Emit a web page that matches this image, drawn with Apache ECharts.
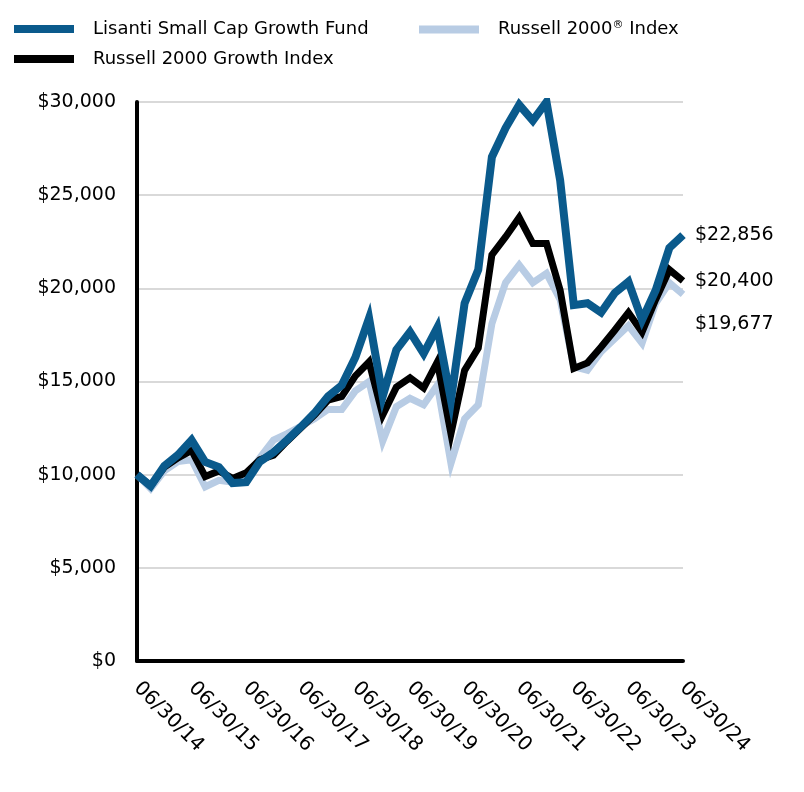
<!DOCTYPE html>
<html><head><meta charset="utf-8">
<script src="https://cdn.jsdelivr.net/npm/echarts@6/dist/echarts.min.js"></script>
<style>html,body{margin:0;padding:0;background:#fff}#c{width:804px;height:792px}</style>
</head><body><div id="c"></div>
<script>
const categories = [
 '06/30/14','09/30/14','12/31/14','03/31/15','06/30/15','09/30/15','12/31/15','03/31/16',
 '06/30/16','09/30/16','12/31/16','03/31/17','06/30/17','09/30/17','12/31/17','03/31/18',
 '06/30/18','09/30/18','12/31/18','03/31/19','06/30/19','09/30/19','12/31/19','03/31/20',
 '06/30/20','09/30/20','12/31/20','03/31/21','06/30/21','09/30/21','12/31/21','03/31/22',
 '06/30/22','09/30/22','12/31/22','03/31/23','06/30/23','09/30/23','12/31/23','03/31/24','06/30/24'];
const fundName = 'Lisanti Small Cap Growth Fund';
const growthName = 'Russell 2000 Growth Index';
const r2000Name = 'Russell 2000® Index';
const fund = [10000,9390,10470,11060,11860,10680,10410,9550,9600,10700,11200,11860,12560,13300,14200,14800,
 16300,18400,14200,16700,17660,16500,17900,14000,19200,21000,27050,28600,29850,29000,30000,25800,
 19100,19200,18700,19750,20350,18300,19900,22170,22856];
const growth = [10000,9400,10400,10900,11300,9900,10200,9800,10100,10800,11050,11800,12500,13200,14000,14200,
 15300,16050,13200,14700,15200,14650,16050,12200,15600,16800,21800,22760,23800,22400,22400,19900,
 15700,16000,16850,17750,18700,17650,19400,21000,20400];
const r2000 = [10000,9250,10200,10700,10800,9350,9700,9600,9800,10900,11860,12200,12600,13000,13500,13500,
 14500,15000,11800,13650,14100,13750,14800,10600,13000,13750,18100,20300,21250,20300,20800,19400,
 15800,15600,16600,17300,18000,17050,19200,20300,19677];
const yTicks = [0,5000,10000,15000,20000,25000,30000];

const FONT = 'DejaVu Sans';
const FS = 18;
const NFS = 19;
const fmt = v => '$' + Math.round(v).toLocaleString('en-US');
const chart = echarts.init(document.getElementById('c'), null, {renderer:'canvas'});
const legendText = {fontFamily:FONT,fontSize:FS,color:'#000',padding:[0,0,0,14],
  rich:{t:{fontFamily:FONT,fontSize:FS,color:'#000'},sup:{fontFamily:FONT,fontSize:11,color:'#000',verticalAlign:'top',padding:[0,0,8,0]}}};
const legendCommon = {itemWidth:60,itemHeight:8,icon:'rect',selectedMode:false,padding:0,itemGap:0,
  textStyle:legendText,
  formatter:n => n.indexOf('®')>=0 ? '{t|'+n.split('®')[0]+'}{sup|®}{t|'+n.split('®')[1]+'}' : n};
const lineCommon = {join:'miter',cap:'butt',width:7};
chart.setOption({
  animation:false,
  backgroundColor:'#fff',
  legend:[
    Object.assign({data:[fundName],left:14,top:20},legendCommon),
    Object.assign({data:[r2000Name],left:419,top:20},legendCommon),
    Object.assign({data:[growthName],left:14,top:50},legendCommon)
  ],
  grid:{left:137,right:121,top:102,bottom:131,containLabel:false},
  xAxis:{type:'category',data:categories,boundaryGap:false,
    axisLine:{lineStyle:{color:'#000',width:4}},axisTick:{show:false},
    axisLabel:{interval:3,rotate:-45,fontFamily:FONT,fontSize:20,color:'#000',margin:24},
    splitLine:{show:false}},
  yAxis:{type:'value',min:yTicks[0],max:yTicks[yTicks.length-1],interval:5000,
    axisLine:{show:true,lineStyle:{color:'#000',width:4}},axisTick:{show:false},
    axisLabel:{formatter:fmt,fontFamily:FONT,fontSize:NFS,color:'#000',margin:21},
    splitLine:{lineStyle:{color:'#d9d9d9',width:2}}},
  series:[
    {name:r2000Name,type:'line',data:r2000,symbol:'none',z:2,
     lineStyle:Object.assign({color:'#b8cce4'},lineCommon),itemStyle:{color:'#b8cce4'},
     endLabel:{show:true,formatter:p=>fmt(p.value),fontFamily:FONT,fontSize:NFS,color:'#000',offset:[4,30]}},
    {name:growthName,type:'line',data:growth,symbol:'none',z:3,
     lineStyle:Object.assign({color:'#000'},lineCommon),itemStyle:{color:'#000'},
     endLabel:{show:true,formatter:p=>fmt(p.value),fontFamily:FONT,fontSize:NFS,color:'#000',offset:[4,0]}},
    {name:fundName,type:'line',data:fund,symbol:'none',z:4,
     lineStyle:Object.assign({color:'#0a5a8c'},lineCommon,{width:8}),itemStyle:{color:'#0a5a8c'},
     endLabel:{show:true,formatter:p=>fmt(p.value),fontFamily:FONT,fontSize:NFS,color:'#000',offset:[4,0]}}
  ]
});
</script></body></html>
